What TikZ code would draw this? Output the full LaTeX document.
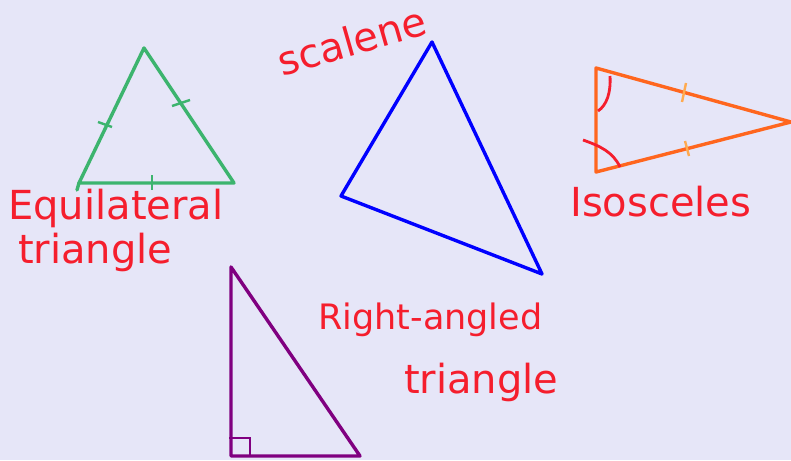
\documentclass[tikz,border=0pt]{standalone}
\usepackage{fontspec}
\setmainfont{DejaVu Sans}
\usetikzlibrary{positioning}
\definecolor{Lavender}{RGB}{230,230,248}
\definecolor{EqGreen}{RGB}{60,180,110}
\definecolor{ScBlue}{RGB}{0,0,255}
\definecolor{IsoOrange}{RGB}{255,102,30}
\definecolor{TickOrange}{RGB}{255,170,80}
\definecolor{RaPurple}{RGB}{128,0,128}
\definecolor{InkRed}{RGB}{245,30,45}

\begin{document}
\begin{tikzpicture}[x=1pt, y=-1pt,
  side/.style={line width=3.4pt, line cap=round, line join=round},
  tick/.style={line width=2.4pt},
  label/.style={text=InkRed, font=\fontsize{40}{42}\selectfont, inner sep=0pt, align=left}]
  \fill[Lavender] (0,0) rectangle (791,460);
  \useasboundingbox (0,0) rectangle (791,460);

  % equilateral
  \coordinate (eqtop) at (144,48);
  \coordinate (eqleft) at (79,183);
  \coordinate (eqright) at (234,183);
  \draw[side, EqGreen] (eqleft) -- (eqtop) -- (eqright) -- cycle;
  \draw[side, EqGreen] (eqleft) -- (77,190);
  \draw[tick, EqGreen] (98,122) -- (112,127);
  \draw[tick, EqGreen] (172,106) -- (190,100);
  \draw[tick, EqGreen] (152,175) -- (152,190);
  \node[label, anchor=west] (eqlabel) at (8,208) {Equilateral};
  \node[label, anchor=west] (eqlabel2) at (18,252) {triangle};

  % scalene
  \coordinate (sctop) at (432,42);
  \coordinate (scleft) at (341,196);
  \coordinate (scright) at (542,274);
  \draw[side, ScBlue] (sctop) -- (scleft) -- (scright) -- cycle;
  \node[label, rotate=16, anchor=west] (sclabel) at (278,62) {scalene};

  % isosceles
  \coordinate (isotop) at (596,68);
  \coordinate (isobot) at (596,172);
  \coordinate (isotip) at (791,122);
  \draw[side, IsoOrange] (isotop) -- (isotip) -- (isobot) -- cycle;
  \draw[tick, TickOrange] (686,83) -- (682,102);
  \draw[tick, TickOrange] (685,141) -- (689,156);
  \draw[line width=2.8pt, InkRed] (610,76) .. controls (611,92) and (607,105) .. (598,111);
  \draw[line width=2.8pt, InkRed] (583,140) .. controls (600,146) and (613,152) .. (620,167);
  \node[label, anchor=west] (isolabel) at (570,202) {Isosceles};

  % right-angled
  \coordinate (ratop) at (231,267);
  \coordinate (racorner) at (231,456);
  \coordinate (raright) at (360,456);
  \draw[side, RaPurple] (ratop) -- (racorner) -- (raright) -- cycle;
  \draw[line width=2.4pt, RaPurple] (229,438) -- (250,438) -- (250,456);
  \node[label, font=\fontsize{35}{37}\selectfont, anchor=west] (ralabel) at (318,320) {Right-angled};
  \node[label, anchor=west] (ralabel2) at (404,382) {triangle};
\end{tikzpicture}
\end{document}
